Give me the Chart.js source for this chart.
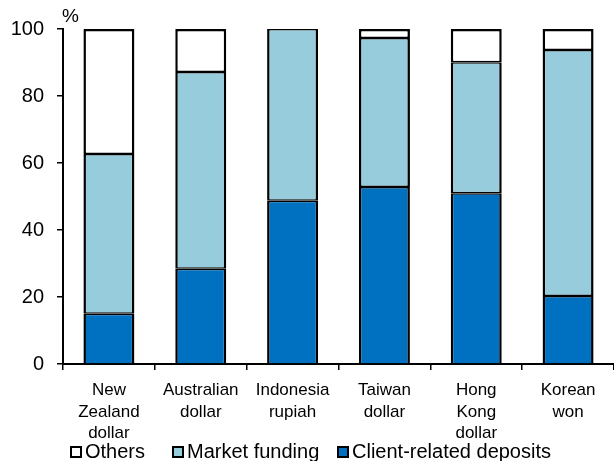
<!DOCTYPE html>
<html>
<head>
<meta charset="utf-8">
<script src="https://cdn.jsdelivr.net/npm/chart.js@4"></script>
<style>
  body { margin: 0; background: #fff; }
  #wrap { width: 614px; height: 461px; position: relative; }
</style>
</head>
<body>
<div id="wrap"><canvas id="fundingChart"></canvas></div>
<script>
// categories (multi-line labels) and stacked shares, per cent
const categories = [
    ['New', 'Zealand', 'dollar'],
    ['Australian', 'dollar'],
    ['Indonesia', 'rupiah'],
    ['Taiwan', 'dollar'],
    ['Hong', 'Kong', 'dollar'],
    ['Korean', 'won']
];
const clientDeposits = [15, 28.4, 48.7, 52.8, 51, 20.3];
const marketFunding = [47.7, 58.8, 51.3, 44.5, 39.1, 73.4];
const others = [37.3, 12.8, 0, 2.7, 9.9, 6.3];
const yTicks = [0, 20, 40, 60, 80, 100];

const FONT = '"Liberation Sans", Arial, sans-serif';

const seriesInfo = [
    { label: 'Client-related deposits', data: clientDeposits, color: '#0070C0' },
    { label: 'Market funding', data: marketFunding, color: '#96CCDC' },
    { label: 'Others', data: others, color: '#FFFFFF' }
];

// legend + "%" unit drawn by hand so spacing matches the original
const extrasPlugin = {
    id: 'extras',
    afterDraw(chart) {
        const ctx = chart.ctx;
        ctx.save();
        ctx.fillStyle = '#000';
        ctx.font = '19px ' + FONT;
        ctx.textBaseline = 'top';
        ctx.textAlign = 'left';
        ctx.fillText('%', 62, 7);

        const legendY = 452;
        const items = [seriesInfo[2], seriesInfo[1], seriesInfo[0]];
        const boxX = [70, 172, 337];
        ctx.font = '20px ' + FONT;
        ctx.textBaseline = 'middle';
        items.forEach((item, i) => {
            ctx.fillStyle = item.color;
            ctx.fillRect(boxX[i] + 1, legendY - 5, 10, 10);
            ctx.strokeStyle = '#000';
            ctx.lineWidth = 2;
            ctx.strokeRect(boxX[i] + 1, legendY - 5, 10, 10);
            ctx.fillStyle = '#000';
            ctx.fillText(item.label, boxX[i] + 15, legendY);
        });
        ctx.restore();
    }
};

new Chart(document.getElementById('fundingChart').getContext('2d'), {
    type: 'bar',
    data: {
        labels: categories,
        datasets: seriesInfo.map((s, i) => ({
            label: s.label,
            data: s.data,
            backgroundColor: s.color,
            borderColor: '#000',
            // inner edges split so stacked joins read as one line
            borderWidth: {
                left: 2.5,
                right: 2.5,
                top: i === seriesInfo.length - 1 ? 2.5 : 1.5,
                bottom: i === 0 ? 0 : 1.5
            },
            borderSkipped: false,
            barPercentage: 0.555,
            categoryPercentage: 1
        }))
    },
    options: {
        responsive: true,
        maintainAspectRatio: false,
        animation: false,
        layout: { padding: { top: 29, right: 0, left: 0, bottom: 0 } },
        plugins: {
            legend: { display: false },
            tooltip: { enabled: false }
        },
        scales: {
            x: {
                stacked: true,
                afterFit: (scale) => { scale.height = 97; },
                grid: {
                    display: true,
                    offset: true,
                    drawOnChartArea: false,
                    drawTicks: true,
                    tickLength: 6,
                    color: '#000',
                    lineWidth: 1.5
                },
                border: { display: true, color: '#000', width: 2 },
                ticks: {
                    color: '#000',
                    font: { family: FONT, size: 17, lineHeight: 1.25 },
                    padding: 10,
                    maxRotation: 0,
                    autoSkip: false
                }
            },
            y: {
                stacked: true,
                min: 0,
                max: 100,
                afterFit: (scale) => { scale.width = 63; },
                afterBuildTicks: (scale) => {
                    scale.ticks = yTicks.map(v => ({ value: v }));
                },
                grid: {
                    display: true,
                    drawOnChartArea: false,
                    drawTicks: true,
                    tickLength: 6,
                    color: '#000',
                    lineWidth: 1.5
                },
                border: { display: true, color: '#000', width: 2 },
                ticks: {
                    color: '#000',
                    font: { family: FONT, size: 20 },
                    padding: 13
                }
            }
        }
    },
    plugins: [extrasPlugin]
});
</script>
</body>
</html>
